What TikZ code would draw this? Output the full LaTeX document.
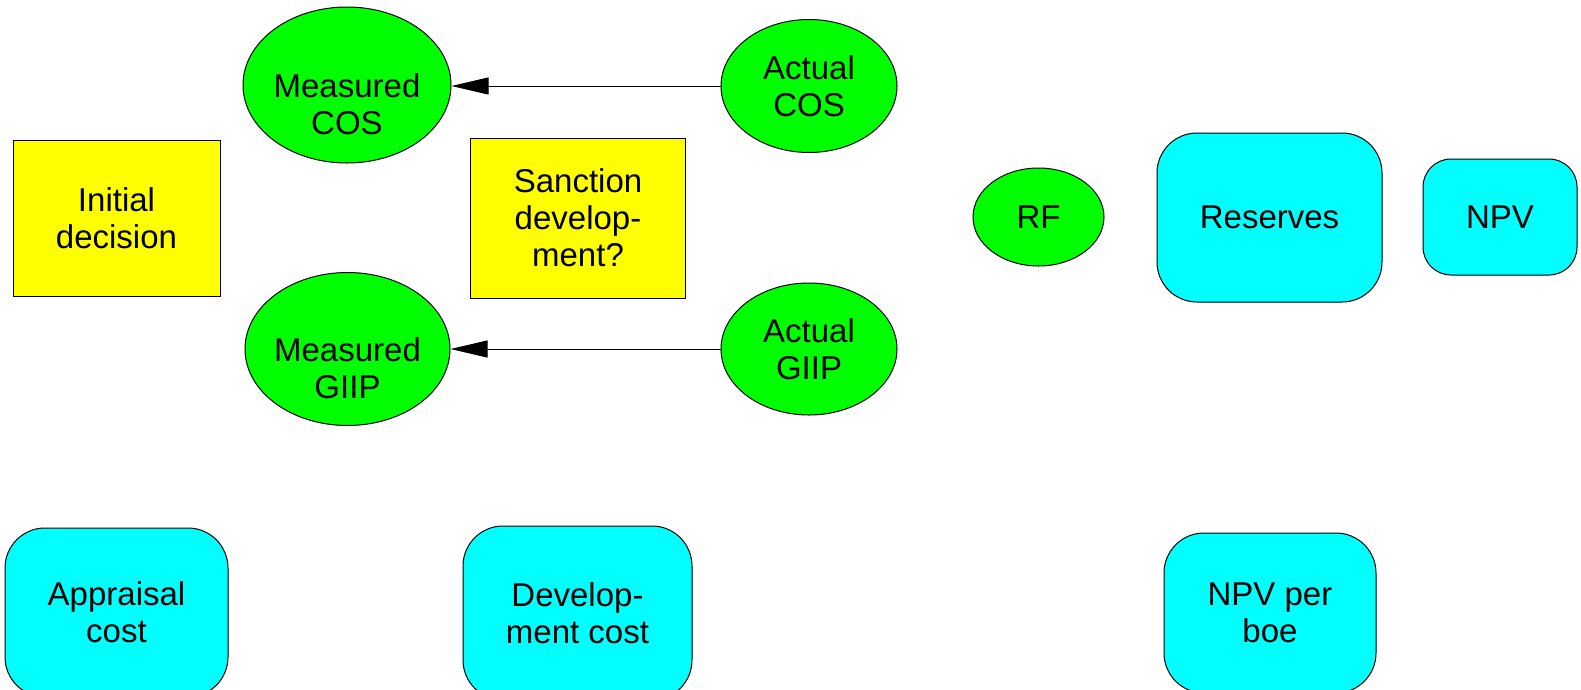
\documentclass[tikz,border=0pt]{standalone}
\usepackage{fontspec}
\setmainfont{Liberation Sans}
\usetikzlibrary{shapes.geometric,arrows.meta}
\definecolor{cgreen}{RGB}{0,255,0}
\definecolor{cyellow}{RGB}{255,255,0}
\definecolor{ccyan}{RGB}{0,255,255}
\tikzset{
  txt/.style={inner sep=0pt, align=center, font=\fontsize{33}{37}\selectfont},
  base/.style={txt, draw=black, line width=1pt},
  chance/.style={base, ellipse, fill=cgreen},
  lowtext/.style={label={[txt, yshift=-19.5pt]center:#1}},
  decision/.style={base, rectangle, fill=cyellow},
  valuebox/.style={base, rectangle, fill=ccyan, rounded corners=40pt},
  arr/.style={draw=black, line width=1pt, -{Triangle[length=37pt,width=17pt]}}
}
\begin{document}
\begin{tikzpicture}[x=1pt,y=-1pt]
\useasboundingbox (0,0) rectangle (1581,689);
\clip (0,0) rectangle (1581,689);
\node[chance, lowtext={Measured\\COS}, minimum width=208pt, minimum height=156pt] (mcos) at (347,85) {};
\node[chance, minimum width=176pt, minimum height=133pt] (acos) at (809,86) {Actual\\COS};
\node[chance, lowtext={Measured\\GIIP}, minimum width=205pt, minimum height=153pt] (mgiip) at (347.5,349) {};
\node[chance, minimum width=176pt, minimum height=132pt] (agiip) at (809,349) {Actual\\GIIP};
\node[decision, minimum width=207pt, minimum height=156pt] (init) at (116.5,218.5) {Initial\\decision};
\node[decision, minimum width=215pt, minimum height=160pt] (sanc) at (578,218) {Sanction\\develop-\\ment?};
\node[chance, minimum width=131pt, minimum height=98pt] (rf) at (1038.5,217) {RF};
\node[valuebox, minimum width=225pt, minimum height=169pt] (res) at (1269.5,217.5) {Reserves};
\node[valuebox, rounded corners=28pt, minimum width=154pt, minimum height=116pt] (npv) at (1500,217) {NPV};
\node[valuebox, minimum width=223pt, minimum height=169pt] (appr) at (116.5,612.5) {Appraisal\\cost};
\node[valuebox, minimum width=229pt, minimum height=174pt] (dev) at (577.5,613) {Develop-\\ment cost};
\node[valuebox, minimum width=212pt, minimum height=160pt] (npvb) at (1270,613) {NPV per\\boe};
\draw[arr] (acos.west) -- (acos.west -| mcos.east);
\draw[arr] (agiip.west) -- (agiip.west -| mgiip.east);
\end{tikzpicture}
\end{document}
